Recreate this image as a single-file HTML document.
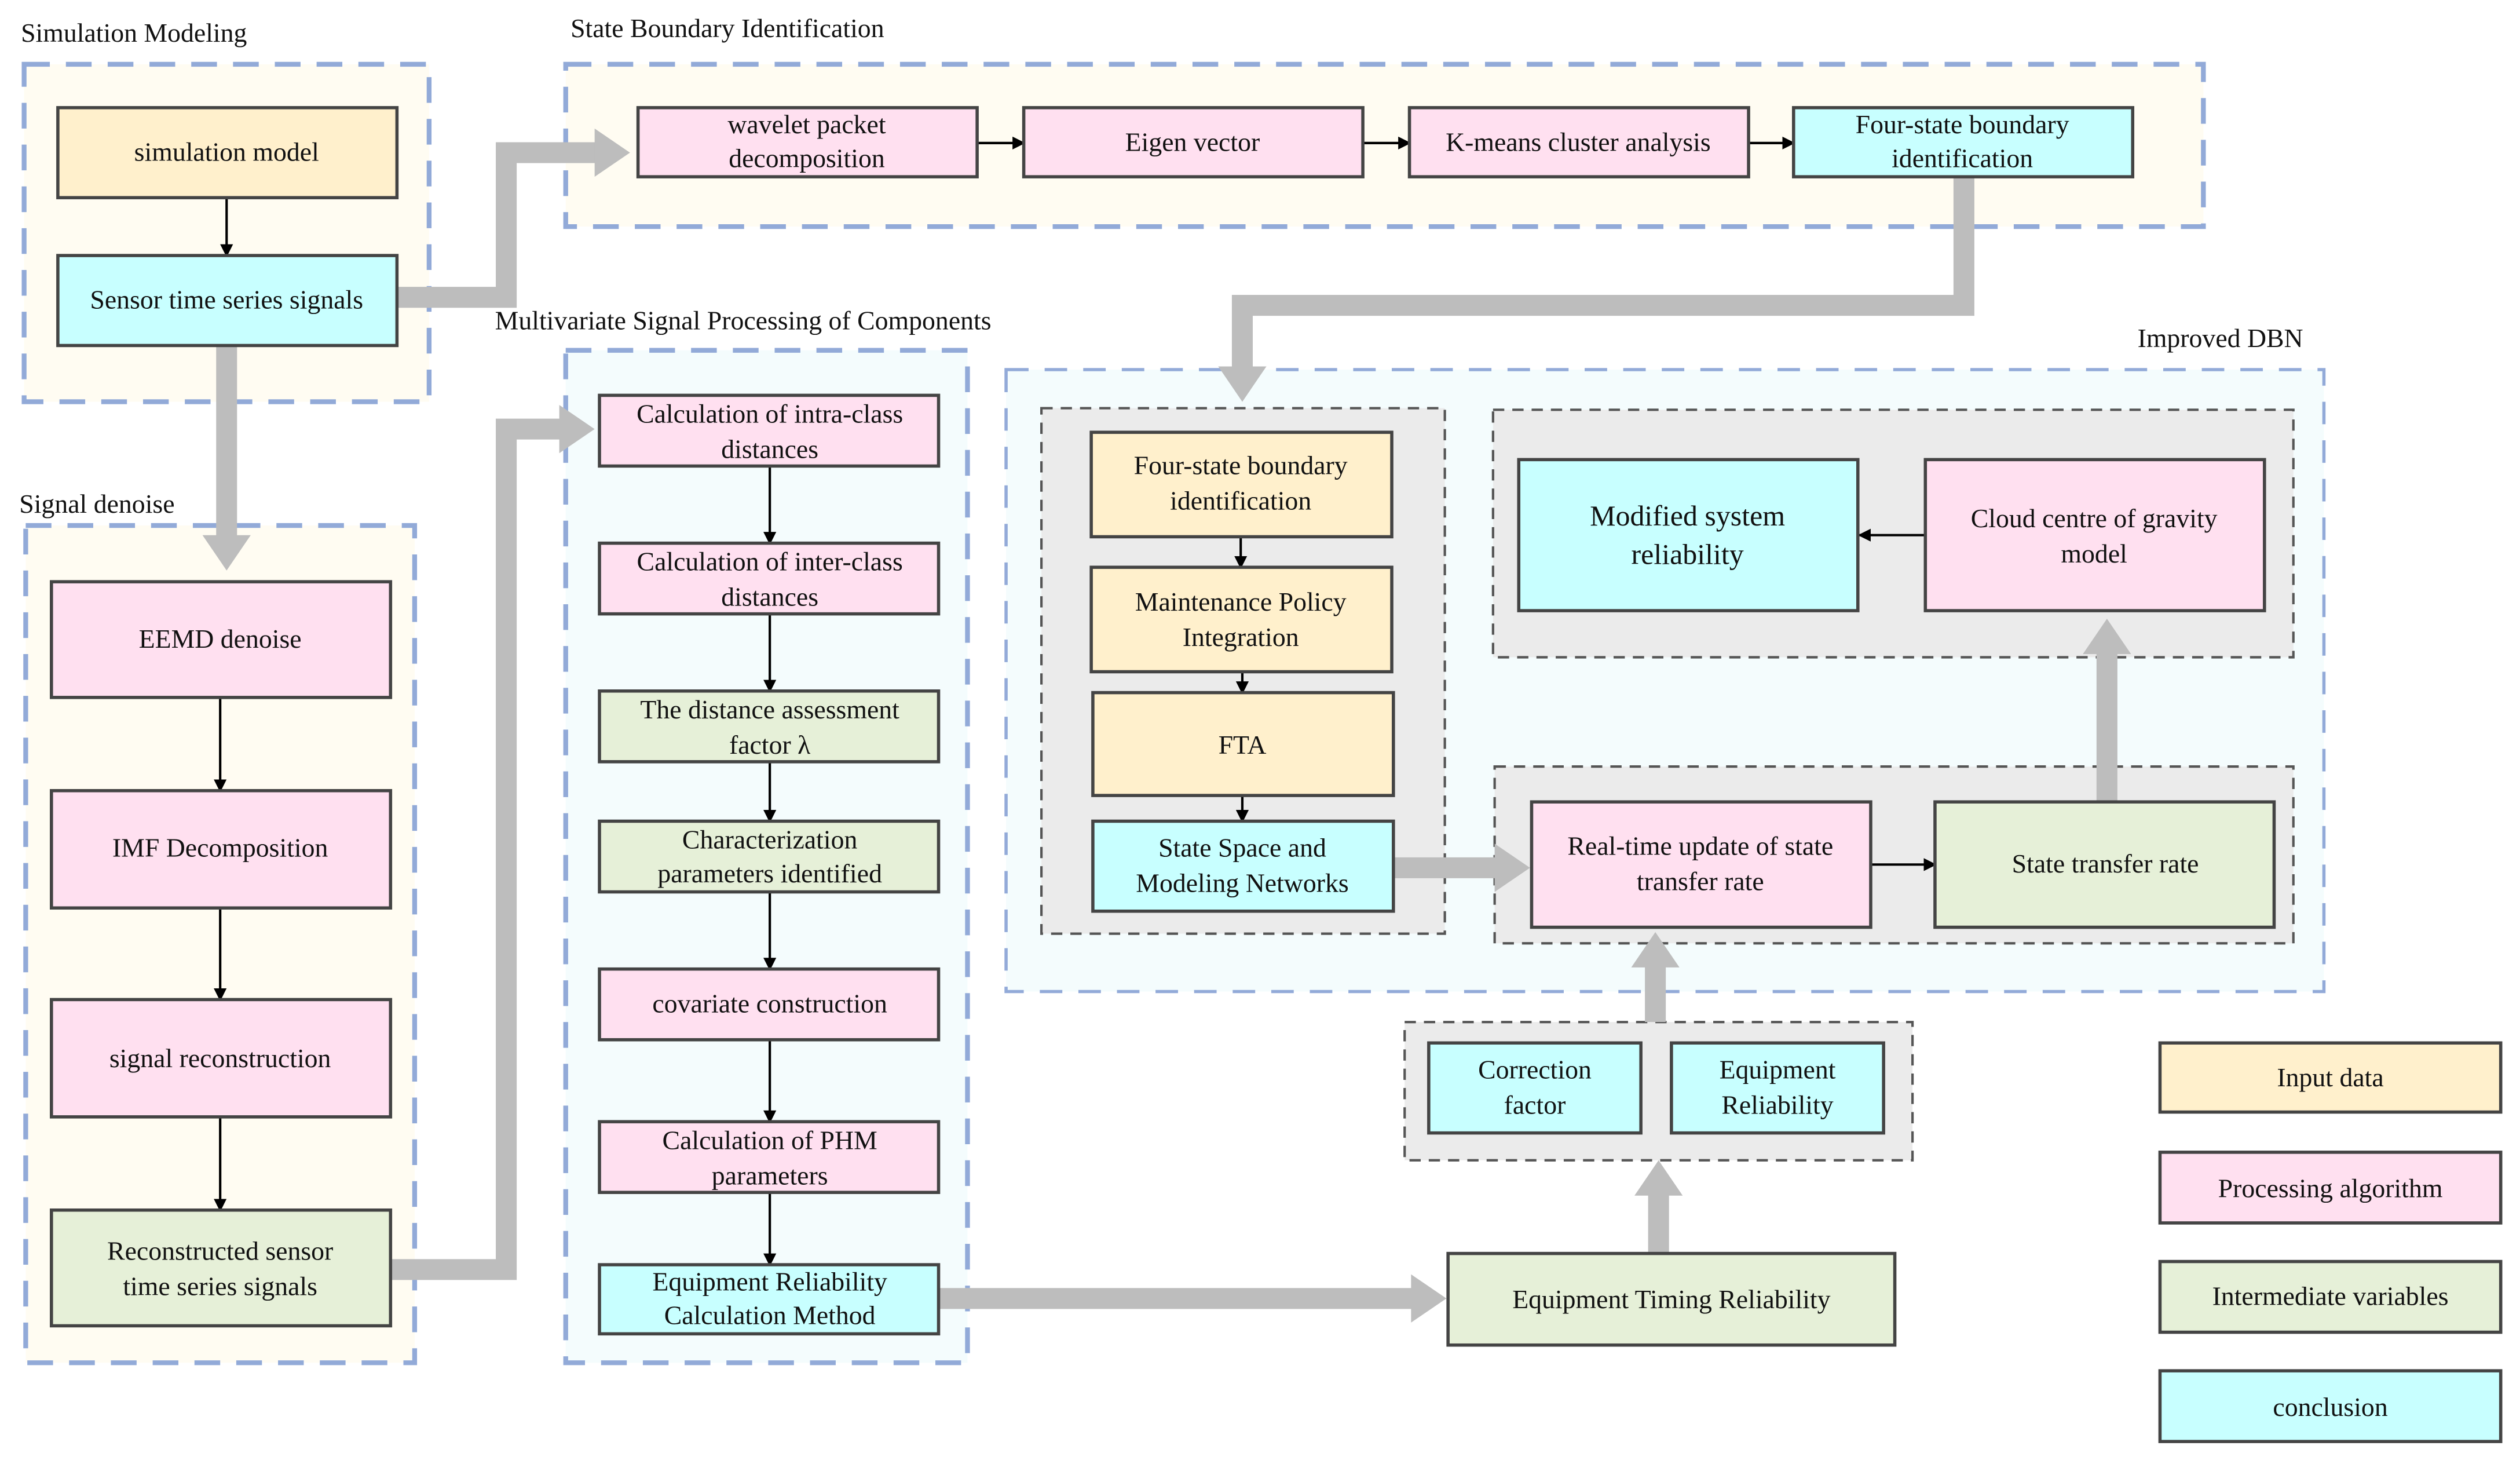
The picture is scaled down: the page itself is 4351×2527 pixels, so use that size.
<!DOCTYPE html>
<html><head><meta charset="utf-8"><style>html,body{margin:0;padding:0;background:#fff}svg{display:block}text{font-family:"Liberation Serif","Times New Roman","DejaVu Serif",serif;font-size:16.5px;fill:#111}</style></head><body>
<svg width="4351" height="2527" viewBox="0 0 1568 911" preserveAspectRatio="none" xmlns="http://www.w3.org/2000/svg" font-family="Liberation Serif, Times New Roman, serif">
<defs>
<marker id="a" markerWidth="8" markerHeight="8" refX="7" refY="4" orient="auto" markerUnits="userSpaceOnUse"><path d="M0,0 L8,4 L0,8 Z" fill="#000"/></marker>
</defs>
<g fill="none" stroke="#92aad8" stroke-width="3" stroke-dasharray="16,10">
<rect x="15" y="40" width="252" height="210" fill="#fffcf2"/>
<rect x="352" y="40" width="1019" height="101" fill="#fffcf2"/>
<rect x="352" y="218" width="250" height="630" fill="#f4fcfd"/>
<rect x="16" y="327" width="242" height="521" fill="#fffcf2"/>
<rect x="626" y="230" width="820" height="387" fill="#f4fcfd" stroke-width="2" stroke-dasharray="14,10"/>
</g>
<g fill="#ebebeb" stroke="#555" stroke-width="1.5" stroke-dasharray="7,5">
<rect x="648" y="254" width="251" height="327"/>
<rect x="929" y="255" width="498" height="154"/>
<rect x="930" y="477" width="497" height="110"/>
<rect x="874" y="636" width="316" height="86"/>
</g>
<text x="13" y="26">Simulation Modeling</text>
<text x="355" y="23">State Boundary Identification</text>
<text x="308" y="205">Multivariate Signal Processing of Components</text>
<text x="12" y="319">Signal denoise</text>
<text x="1330" y="216">Improved DBN</text>
<g fill="none" stroke="#bdbdbd" stroke-width="13">
<polyline points="247,185 315,185 315,95 372,95"/>
<polyline points="141,215 141,335"/>
<polyline points="243,790 315,790 315,267 350,267"/>
<polyline points="1222,110 1222,190 773,190 773,230"/>
<polyline points="584,808 880,808"/>
<polyline points="866,540 932,540"/>
<polyline points="1311,499 1311,405"/>
<polyline points="1030,636 1030,600"/>
<polyline points="1032,780 1032,742"/>
</g>
<g fill="#bdbdbd">
<polygon points="370,80 392,95 370,110"/>
<polygon points="126,333 141,355 156,333"/>
<polygon points="348,252 370,267 348,282"/>
<polygon points="758,228 773,250 788,228"/>
<polygon points="878,793 900,808 878,823"/>
<polygon points="930,525 952,540 930,555"/>
<polygon points="1296,407 1311,385 1326,407"/>
<polygon points="1015,602 1030,580 1045,602"/>
<polygon points="1017,744 1032,722 1047,744"/>
</g>
<g stroke="#000" stroke-width="1.5" marker-end="url(#a)">
<line x1="141" y1="123" x2="141" y2="159"/>
<line x1="608" y1="89" x2="637" y2="89"/>
<line x1="848" y1="89" x2="877" y2="89"/>
<line x1="1088" y1="89" x2="1116" y2="89"/>
<line x1="137" y1="434" x2="137" y2="492"/>
<line x1="137" y1="565" x2="137" y2="622"/>
<line x1="137" y1="695" x2="137" y2="753"/>
<line x1="479" y1="290" x2="479" y2="338"/>
<line x1="479" y1="382" x2="479" y2="430"/>
<line x1="479" y1="474" x2="479" y2="511"/>
<line x1="479" y1="555" x2="479" y2="603"/>
<line x1="479" y1="647" x2="479" y2="698"/>
<line x1="479" y1="742" x2="479" y2="787"/>
<line x1="772" y1="334" x2="772" y2="353"/>
<line x1="773" y1="418" x2="773" y2="431"/>
<line x1="773" y1="495" x2="773" y2="511"/>
<line x1="1198" y1="333" x2="1157" y2="333"/>
<line x1="1164" y1="538" x2="1204" y2="538"/>
</g>
<g stroke="#444" stroke-width="2">
<rect x="36" y="67" width="211" height="56" fill="#fff0cc"/>
<rect x="36" y="159" width="211" height="56" fill="#c8ffff"/>
<rect x="397" y="67" width="211" height="43" fill="#ffe0f0"/>
<rect x="637" y="67" width="211" height="43" fill="#ffe0f0"/>
<rect x="877" y="67" width="211" height="43" fill="#ffe0f0"/>
<rect x="1116" y="67" width="211" height="43" fill="#c8ffff"/>
<rect x="32" y="362" width="211" height="72" fill="#ffe0f0"/>
<rect x="32" y="492" width="211" height="73" fill="#ffe0f0"/>
<rect x="32" y="622" width="211" height="73" fill="#ffe0f0"/>
<rect x="32" y="753" width="211" height="72" fill="#e6f0d8"/>
<rect x="373" y="246" width="211" height="44" fill="#ffe0f0"/>
<rect x="373" y="338" width="211" height="44" fill="#ffe0f0"/>
<rect x="373" y="430" width="211" height="44" fill="#e6f0d8"/>
<rect x="373" y="511" width="211" height="44" fill="#e6f0d8"/>
<rect x="373" y="603" width="211" height="44" fill="#ffe0f0"/>
<rect x="373" y="698" width="211" height="44" fill="#ffe0f0"/>
<rect x="373" y="787" width="211" height="43" fill="#c8ffff"/>
<rect x="679" y="269" width="187" height="65" fill="#fff0cc"/>
<rect x="679" y="353" width="187" height="65" fill="#fff0cc"/>
<rect x="680" y="431" width="187" height="64" fill="#fff0cc"/>
<rect x="680" y="511" width="187" height="56" fill="#c8ffff"/>
<rect x="945" y="286" width="211" height="94" fill="#c8ffff"/>
<rect x="1198" y="286" width="211" height="94" fill="#ffe0f0"/>
<rect x="953" y="499" width="211" height="78" fill="#ffe0f0"/>
<rect x="1204" y="499" width="211" height="78" fill="#e6f0d8"/>
<rect x="889" y="649" width="132" height="56" fill="#c8ffff"/>
<rect x="1040" y="649" width="132" height="56" fill="#c8ffff"/>
<rect x="901" y="780" width="278" height="57" fill="#e6f0d8"/>
<rect x="1344" y="649" width="212" height="43" fill="#fff0cc"/>
<rect x="1344" y="717" width="212" height="44" fill="#ffe0f0"/>
<rect x="1344" y="785" width="212" height="44" fill="#e6f0d8"/>
<rect x="1344" y="853" width="212" height="44" fill="#c8ffff"/>
</g>
<g text-anchor="middle">
<text x="141" y="100">simulation model</text>
<text x="141" y="192">Sensor time series signals</text>
<text x="502" y="83">wavelet packet</text><text x="502" y="104">decomposition</text>
<text x="742" y="94">Eigen vector</text>
<text x="982" y="94">K-means cluster analysis</text>
<text x="1221" y="83">Four-state boundary</text><text x="1221" y="104">identification</text>
<text x="137" y="403">EEMD denoise</text>
<text x="137" y="533">IMF  Decomposition</text>
<text x="137" y="664">signal reconstruction</text>
<text x="137" y="784">Reconstructed sensor</text><text x="137" y="806">time series signals</text>
<text x="479" y="263">Calculation of intra-class</text><text x="479" y="285">distances</text>
<text x="479" y="355">Calculation of inter-class</text><text x="479" y="377">distances</text>
<text x="479" y="447">The distance assessment</text><text x="479" y="469">factor λ</text>
<text x="479" y="528">Characterization</text><text x="479" y="549">parameters identified</text>
<text x="479" y="630">covariate construction</text>
<text x="479" y="715">Calculation of PHM</text><text x="479" y="737">parameters</text>
<text x="479" y="803">Equipment Reliability</text><text x="479" y="824">Calculation Method</text>
<text x="772" y="295">Four-state boundary</text><text x="772" y="317">identification</text>
<text x="772" y="380">Maintenance Policy</text><text x="772" y="402">Integration</text>
<text x="773" y="469">FTA</text>
<text x="773" y="533">State Space and</text><text x="773" y="555">Modeling Networks</text>
<text x="1050" y="327" style="font-size:18px">Modified system</text><text x="1050" y="351" style="font-size:18px">reliability</text>
<text x="1303" y="328">Cloud centre of gravity</text><text x="1303" y="350">model</text>
<text x="1058" y="532">Real-time update of state</text><text x="1058" y="554">transfer rate</text>
<text x="1310" y="543">State transfer rate</text>
<text x="955" y="671">Correction</text><text x="955" y="693">factor</text>
<text x="1106" y="671">Equipment</text><text x="1106" y="693">Reliability</text>
<text x="1040" y="814">Equipment Timing Reliability</text>
<text x="1450" y="676">Input data</text>
<text x="1450" y="745">Processing algorithm</text>
<text x="1450" y="812">Intermediate variables</text>
<text x="1450" y="881">conclusion</text>
</g>
</svg>
</body></html>
